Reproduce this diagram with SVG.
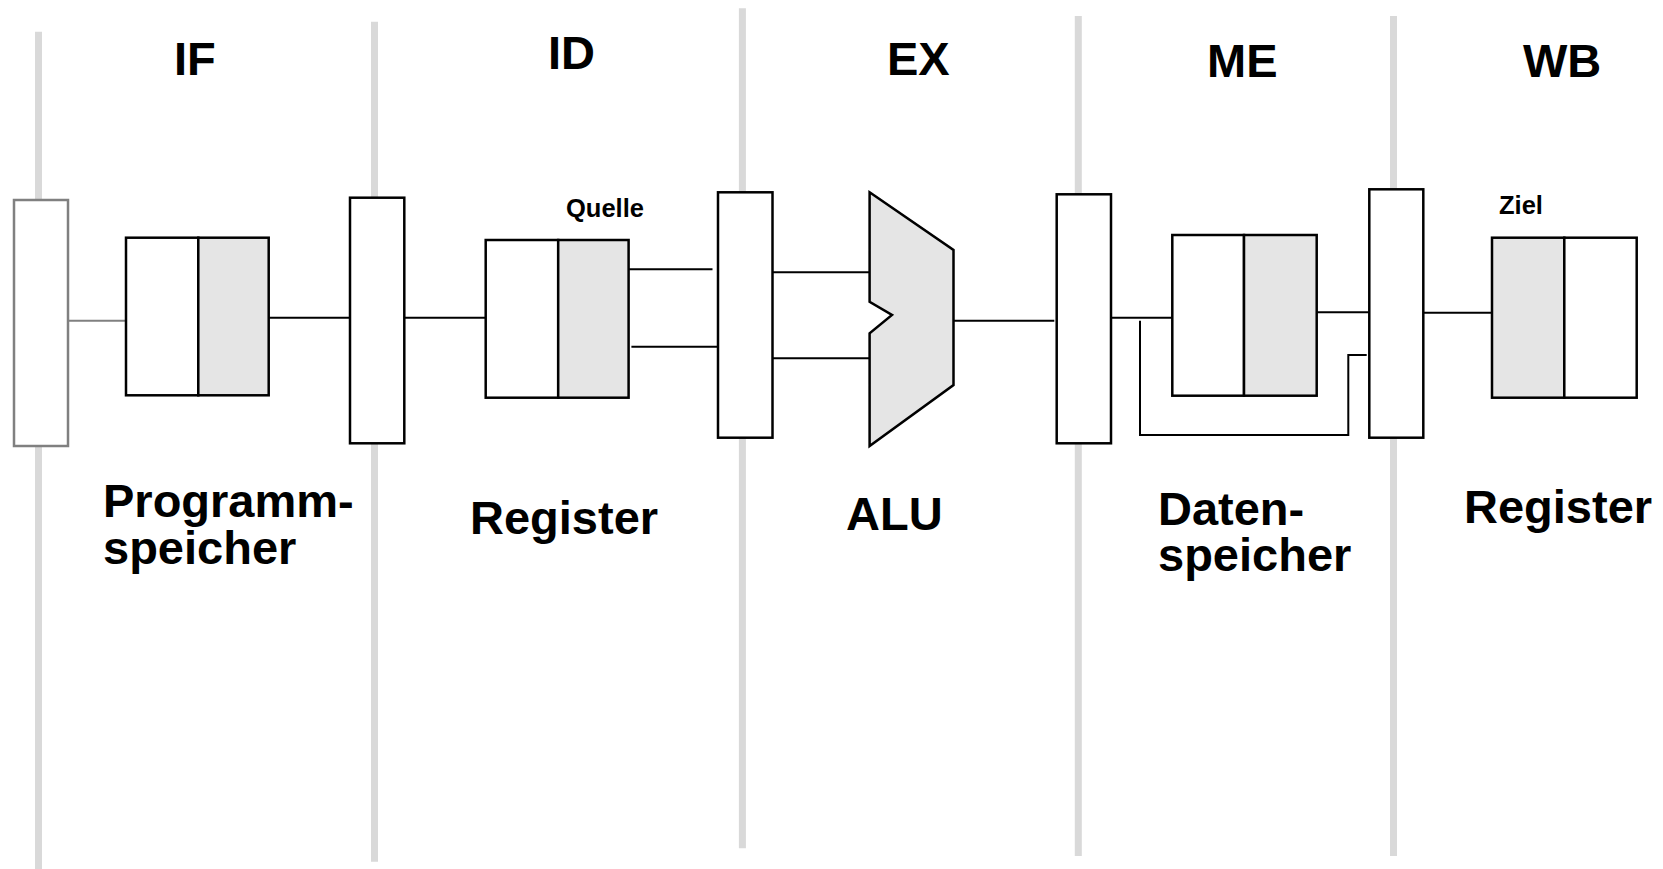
<svg xmlns="http://www.w3.org/2000/svg" width="1663" height="869" viewBox="0 0 1663 869">
<style>
.bg{fill:#ffffff}
.sep{stroke:#d9d9d9;stroke-width:7;fill:none}
.preg{fill:#ffffff;stroke:#000000;stroke-width:2.5}
.preg0{fill:#ffffff;stroke:#808080;stroke-width:2.5}
.box{fill:#ffffff;stroke:#000000;stroke-width:2.5}
.half{fill:#e5e5e5;stroke:#000000;stroke-width:2.5}
.wire{stroke:#000000;stroke-width:2;fill:none}
.wire0{stroke:#808080;stroke-width:2;fill:none}
.big{font-family:"Liberation Sans",Arial,Helvetica,sans-serif;font-weight:bold;font-size:47px;fill:#000000}
.small{font-family:"Liberation Sans",Arial,Helvetica,sans-serif;font-weight:bold;font-size:25.5px;fill:#000000}
</style>
<rect class="bg" x="0" y="0" width="1663" height="869"/>
<g id="separators">
<line class="sep" x1="38.5" y1="31.7" x2="38.5" y2="869"/>
<line class="sep" x1="374.5" y1="21.7" x2="374.5" y2="861.7"/>
<line class="sep" x1="742.4" y1="8.3" x2="742.4" y2="848.3"/>
<line class="sep" x1="1078.3" y1="16" x2="1078.3" y2="856"/>
<line class="sep" x1="1393.5" y1="16" x2="1393.5" y2="856"/>
</g>
<g id="stage-labels">
<text class="big" x="174" y="75">IF</text>
<text class="big" x="548" y="68.5">ID</text>
<text class="big" x="887" y="75">EX</text>
<text class="big" x="1207" y="77">ME</text>
<text class="big" x="1523" y="77">WB</text>
</g>
<g id="connectors">
<line class="wire0" x1="68" y1="320.7" x2="130" y2="320.7"/>
<line class="wire" x1="268.7" y1="317.7" x2="350" y2="317.7"/>
<line class="wire" x1="402" y1="317.7" x2="485.7" y2="317.7"/>
<line class="wire" x1="628.6" y1="269.3" x2="712.5" y2="269.3"/>
<line class="wire" x1="631.4" y1="346.7" x2="718" y2="346.7"/>
<line class="wire" x1="769.6" y1="272.3" x2="869.6" y2="272.3"/>
<line class="wire" x1="769.6" y1="358.3" x2="869.6" y2="358.3"/>
<line class="wire" x1="953.5" y1="320.7" x2="1054.3" y2="320.7"/>
<line class="wire" x1="1111" y1="317.7" x2="1172.3" y2="317.7"/>
<polyline class="wire" points="1140,320.7 1140,435 1348.3,435 1348.3,355 1366.7,355"/>
<line class="wire" x1="1316.7" y1="312.3" x2="1369.3" y2="312.3"/>
<line class="wire" x1="1423.3" y1="312.7" x2="1492" y2="312.7"/>
</g>
<g id="pipeline-reg-0"><rect class="preg0" x="14" y="200" width="54" height="246"/></g>
<g id="pipeline-reg-1"><rect class="preg" x="350" y="197.7" width="54.3" height="245.6"/></g>
<g id="pipeline-reg-2"><rect class="preg" x="718" y="192.3" width="54.5" height="245.4"/></g>
<g id="pipeline-reg-3"><rect class="preg" x="1056.7" y="194.3" width="54.3" height="249"/></g>
<g id="pipeline-reg-4"><rect class="preg" x="1369.3" y="189.3" width="54" height="248.4"/></g>
<g id="programmspeicher">
<rect class="box" x="126" y="237.7" width="72.3" height="157.6"/>
<rect class="half" x="198.3" y="237.7" width="70.4" height="157.6"/>
<text class="big" x="103" y="517">Programm-</text>
<text class="big" x="103" y="564">speicher</text>
</g>
<g id="register-id">
<rect class="box" x="485.7" y="240" width="72.5" height="157.7"/>
<rect class="half" x="558.2" y="240" width="70.4" height="157.7"/>
<text class="small" x="566" y="216.7">Quelle</text>
<text class="big" x="470" y="534">Register</text>
</g>
<g id="alu">
<polygon class="half" points="869.6,192.3 953.5,250 953.5,385 869.6,446 869.6,333.3 892,315 869.6,301.7"/>
<text class="big" x="846" y="530">ALU</text>
</g>
<g id="datenspeicher">
<rect class="box" x="1172.3" y="235" width="71.7" height="160.7"/>
<rect class="half" x="1244" y="235" width="72.7" height="160.7"/>
<text class="big" x="1158" y="525">Daten-</text>
<text class="big" x="1158" y="571">speicher</text>
</g>
<g id="register-wb">
<rect class="half" x="1492" y="237.7" width="72.3" height="160"/>
<rect class="box" x="1564.3" y="237.7" width="72.4" height="160"/>
<text class="small" x="1499" y="214">Ziel</text>
<text class="big" x="1464" y="523.3">Register</text>
</g>
</svg>
